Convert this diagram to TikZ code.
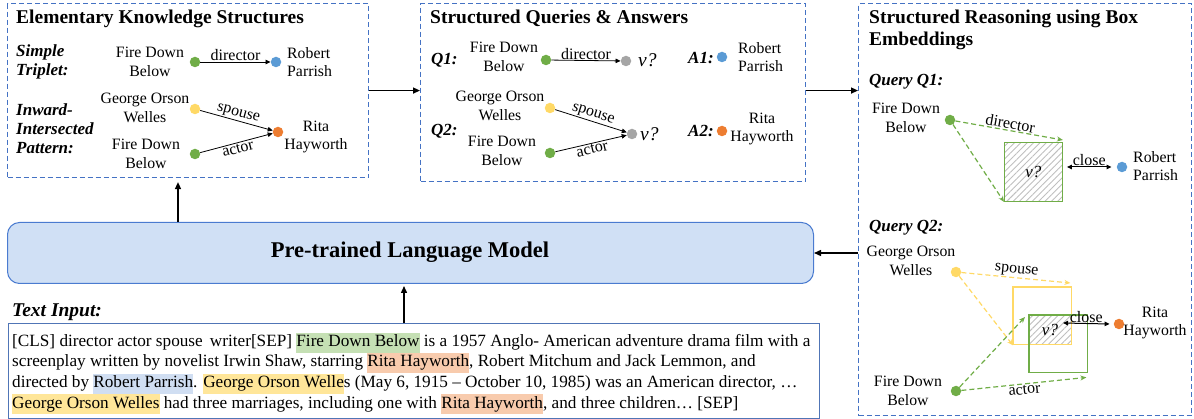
\documentclass[tikz,border=0pt]{standalone}
\usepackage{fontspec}
\setmainfont{Liberation Serif}
\usetikzlibrary{arrows.meta,patterns.meta,calc}
\definecolor{dashblue}{HTML}{4472C4}
\definecolor{plmfill}{HTML}{D0E0F5}
\definecolor{plmdraw}{HTML}{4A7BD0}
\definecolor{cgreen}{HTML}{70AD47}
\definecolor{cblue}{HTML}{5B9BD5}
\definecolor{cyellow}{HTML}{FFD966}
\definecolor{corange}{HTML}{ED7D31}
\definecolor{cgray}{HTML}{A5A5A5}
\definecolor{hgreen}{HTML}{C5E0B4}
\definecolor{horange}{HTML}{F8CBAD}
\definecolor{hblue}{HTML}{D0DEF2}
\definecolor{hyellow}{HTML}{FFE699}
\definecolor{hatchgray}{HTML}{BFBFBF}
\newcommand\fsz[2]{\fontsize{#1}{#2}\selectfont}
\newcommand\hlc[2]{{\setlength\fboxsep{0pt}\colorbox{#1}{\strut #2}}}
\begin{document}
\begin{tikzpicture}[x=1pt,y=-1pt,
  dbox/.style={draw=dashblue, dash pattern=on 5pt off 3pt, line width=1.1pt, inner sep=0pt, anchor=north west},
  ent/.style={font=\fsz{15.8}{18.6}, align=center, inner sep=0pt},
  entl/.style={ent, align=left, anchor=west},
  lbl/.style={font=\fsz{17}{19}\bfseries\itshape, align=left, anchor=west, inner sep=0pt},
  ttl/.style={font=\fsz{19.5}{22}\bfseries, align=left, anchor=west, inner sep=0pt},
  dot/.style={circle, inner sep=0pt, minimum size=10.5pt},
  rel/.style={font=\fsz{16}{18}, inner sep=0.8pt},
  vq/.style={font=\fsz{19.5}{20}\itshape, inner sep=0pt},
  arr/.style={-{Triangle[length=5pt,width=4.5pt]}, line width=0.8pt},
  bigarr/.style={-{Triangle[length=7pt,width=6pt]}, line width=1.4pt},
  dblarr/.style={{Triangle[length=5pt,width=4.5pt]}-{Triangle[length=5pt,width=4.5pt]}, line width=1pt},
  dsh/.style={dash pattern=on 5pt off 3pt, line width=1.2pt, -{Stealth[length=6pt,width=5pt]}},
  hatch/.style={pattern={Lines[angle=45,distance=4.5pt,line width=0.9pt]}, pattern color=hatchgray}
]
\useasboundingbox (0,0) rectangle (1194,419);

% ---------------- Box 1 ----------------
\node[dbox, minimum width=361pt, minimum height=174pt] (b1) at (7,3) {};
\node[ttl] (t1) at (16,19) {Elementary Knowledge Structures};
\node[lbl] (st) at (16,62) {Simple\\Triplet:};
\node[lbl] (iip) at (16,129) {Inward-\\Intersected\\Pattern:};
\node[ent] (fdb1) at (150,62) {Fire Down\\Below};
\node[dot, fill=cgreen] (g1) at (195,62) {};
\node[dot, fill=cblue] (bl1) at (276,62) {};
\draw[arr] (g1) -- node[rel, above] {director} (bl1);
\node[entl] (rp1) at (287,62) {Robert\\Parrish};
\node[ent] (gow1) at (145,108) {George Orson\\Welles};
\node[dot, fill=cyellow] (y1) at (195,109) {};
\node[dot, fill=corange] (o1) at (278,132) {};
\node[dot, fill=cgreen] (g1b) at (195,154) {};
\node[ent] (fdb1b) at (146,154) {Fire Down\\Below};
\node[ent] (rh1) at (316,137) {Rita\\Hayworth};
\draw[arr] (y1) -- node[rel, above, sloped] {spouse} (o1);
\draw[arr] (g1b) -- node[rel, below, sloped] {actor} (o1);

% ---------------- Box 2 ----------------
\node[dbox, minimum width=385pt, minimum height=178pt] (b2) at (420,3) {};
\node[ttl] (t2) at (430,18) {Structured Queries \& Answers};
\node[lbl] (q1) at (431,60) {Q1:};
\node[ent] (fdb2) at (504,57) {Fire Down\\Below};
\node[dot, fill=cgreen] (g2) at (546,60) {};
\node[dot, fill=cgray] (gr2) at (626,61) {};
\draw[arr] (g2) -- node[rel, above] {director} (gr2);
\node[vq, anchor=west] (v2) at (638,60) {v?};
\node[lbl] (a1) at (688,58) {A1:};
\node[dot, fill=cblue] (bl2) at (722,57) {};
\node[entl] (rp2) at (738,57) {Robert\\Parrish};
\node[ent] (gow2) at (500,106) {George Orson\\Welles};
\node[dot, fill=cyellow] (y2) at (550,108) {};
\node[dot, fill=cgray] (gr2b) at (632,134) {};
\node[dot, fill=cgreen] (g2b) at (550,153) {};
\draw[arr] (y2) -- node[rel, above, sloped] {spouse} (gr2b);
\draw[arr] (g2b) -- node[rel, below, sloped] {actor} (gr2b);
\node[vq, anchor=west] (v2b) at (640,134) {v?};
\node[lbl] (q2) at (431,131) {Q2:};
\node[ent] (fdb2b) at (502,151) {Fire Down\\Below};
\node[lbl] (a2) at (688,131) {A2:};
\node[dot, fill=corange] (o2) at (722,131) {};
\node[ent] (rh2) at (762,129) {Rita\\Hayworth};

% ---------------- Box 3 ----------------
\node[dbox, minimum width=333pt, minimum height=412pt] (b3) at (858,3) {};
\node[ttl] (t3) at (869,30) {Structured Reasoning using Box\\Embeddings};
\node[lbl] (qq1) at (869,82) {Query Q1:};
\node[ent] (fdb3) at (906,118) {Fire Down\\Below};
\node[dot, fill=cgreen] (g3) at (950,120) {};
\node[draw=cgreen, line width=1.3pt, hatch, minimum width=58pt, minimum height=59pt, inner sep=0pt, anchor=north west] (vb1) at (1004,142) {};
\node[vq, font=\fsz{17}{18}\itshape] (v3) at (vb1.center) {v?};
\draw[dsh, draw=cgreen] (g3) -- node[rel, above, sloped] {director} ([yshift=2pt]vb1.north east);
\draw[dsh, draw=cgreen] (g3) -- (vb1.south west);
\node[dot, fill=cblue] (bl3) at (1122,167) {};
\node[entl] (rp3) at (1133,166) {Robert\\Parrish};
\draw[dblarr] ([xshift=4pt]vb1.east |- bl3) -- node[rel, above] {close} ([xshift=-5pt]bl3.west);

\node[lbl] (qq2) at (869,228) {Query Q2:};
\node[ent] (gow3) at (911,261) {George Orson\\Welles};
\node[dot, fill=cyellow] (y3) at (956,272) {};
\node[dot, fill=cgreen] (g3b) at (956,391) {};
\node[ent] (fdb3b) at (908,391) {Fire Down\\Below};
\node[inner sep=0pt, minimum width=58pt, minimum height=57pt, anchor=north west] (yb) at (1013,287) {};
\node[inner sep=0pt, minimum width=58pt, minimum height=57pt, anchor=north west] (gb) at (1029,315) {};
\fill[hatch] (gb.north west) rectangle (yb.south east);
\draw[draw=cyellow, line width=1.3pt] (yb.north west) rectangle (yb.south east);
\draw[draw=cgreen, line width=1.3pt] (gb.north west) rectangle (gb.south east);
\node[vq, font=\fsz{17}{18}\itshape] (v3b) at (1050,330) {v?};
\draw[dsh, draw=cyellow] (y3) -- node[rel, above, sloped] {spouse} ([xshift=-1pt,yshift=4pt]yb.north east);
\draw[dsh, draw=cyellow] (y3) -- ([yshift=-1pt]yb.south west);
\draw[dsh, draw=cgreen] (g3b) -- ([xshift=-4pt,yshift=-2pt]gb.north west);
\draw[dsh, draw=cgreen] (g3b) -- node[rel, below, sloped] {actor} ([xshift=-1pt,yshift=-5pt]gb.south east);
\node[dot, fill=corange] (o3) at (1119,324) {};
\node[ent] (rh3) at (1155,323) {Rita\\Hayworth};
\draw[dblarr] (1063,323) -- node[rel, above] {close} ([xshift=-4pt]o3.west);

% ---------------- PLM & text ----------------
\node[draw=plmdraw, fill=plmfill, line width=1pt, rounded corners=12pt, minimum width=806pt, minimum height=61pt, inner sep=0pt, anchor=north west] (plm) at (7,222) {};
\node[font=\fsz{22.5}{24}\bfseries, inner sep=0pt] (plmt) at (410,252) {Pre-trained Language Model};

\node[lbl, font=\fsz{19.5}{22}\bfseries\itshape] (ti) at (12,312) {Text Input:};
\node[draw=dashblue!80!gray, line width=0.9pt, minimum width=811pt, minimum height=95pt, inner sep=0pt, anchor=north west] (tb) at (8,323) {};
\begin{scope}[every node/.style={font=\fsz{17.2}{20.4}, inner sep=0pt, anchor=base west}]
\node (l1) at (12,347) {[CLS] director actor spouse \,writer[SEP] \hlc{hgreen}{Fire Down Below} is a 1957 Anglo- American adventure drama film with a};
\node (l2) at (12,367) {screenplay written by novelist Irwin Shaw, starring \hlc{horange}{Rita Hayworth}, Robert Mitchum and Jack Lemmon, and};
\node (l3) at (12,388) {directed by \hlc{hblue}{Robert Parrish}. \hlc{hyellow}{George Orson Welle}s (May 6, 1915 – October 10, 1985) was an American director, …};
\node (l4) at (12,408) {\hlc{hyellow}{George Orson Welles} had three marriages, including one with \hlc{horange}{Rita Hayworth}, and three children… [SEP]};
\end{scope}

% ---------------- connectors ----------------
\coordinate (cx1) at (178,0);
\coordinate (cx2) at (404,0);
\draw[bigarr] (b1.east) -- (b2.west |- b1.east);
\draw[bigarr] (b2.east |- b1.east) -- (b3.west |- b1.east);
\draw[bigarr] (b3.west |- plm.east) -- (plm.east);
\draw[bigarr] (plm.north -| cx1) -- ([yshift=-4pt]b1.south -| cx1);
\draw[bigarr] (tb.north -| cx2) -- ([yshift=-2pt]plm.south -| cx2);
\end{tikzpicture}
\end{document}
